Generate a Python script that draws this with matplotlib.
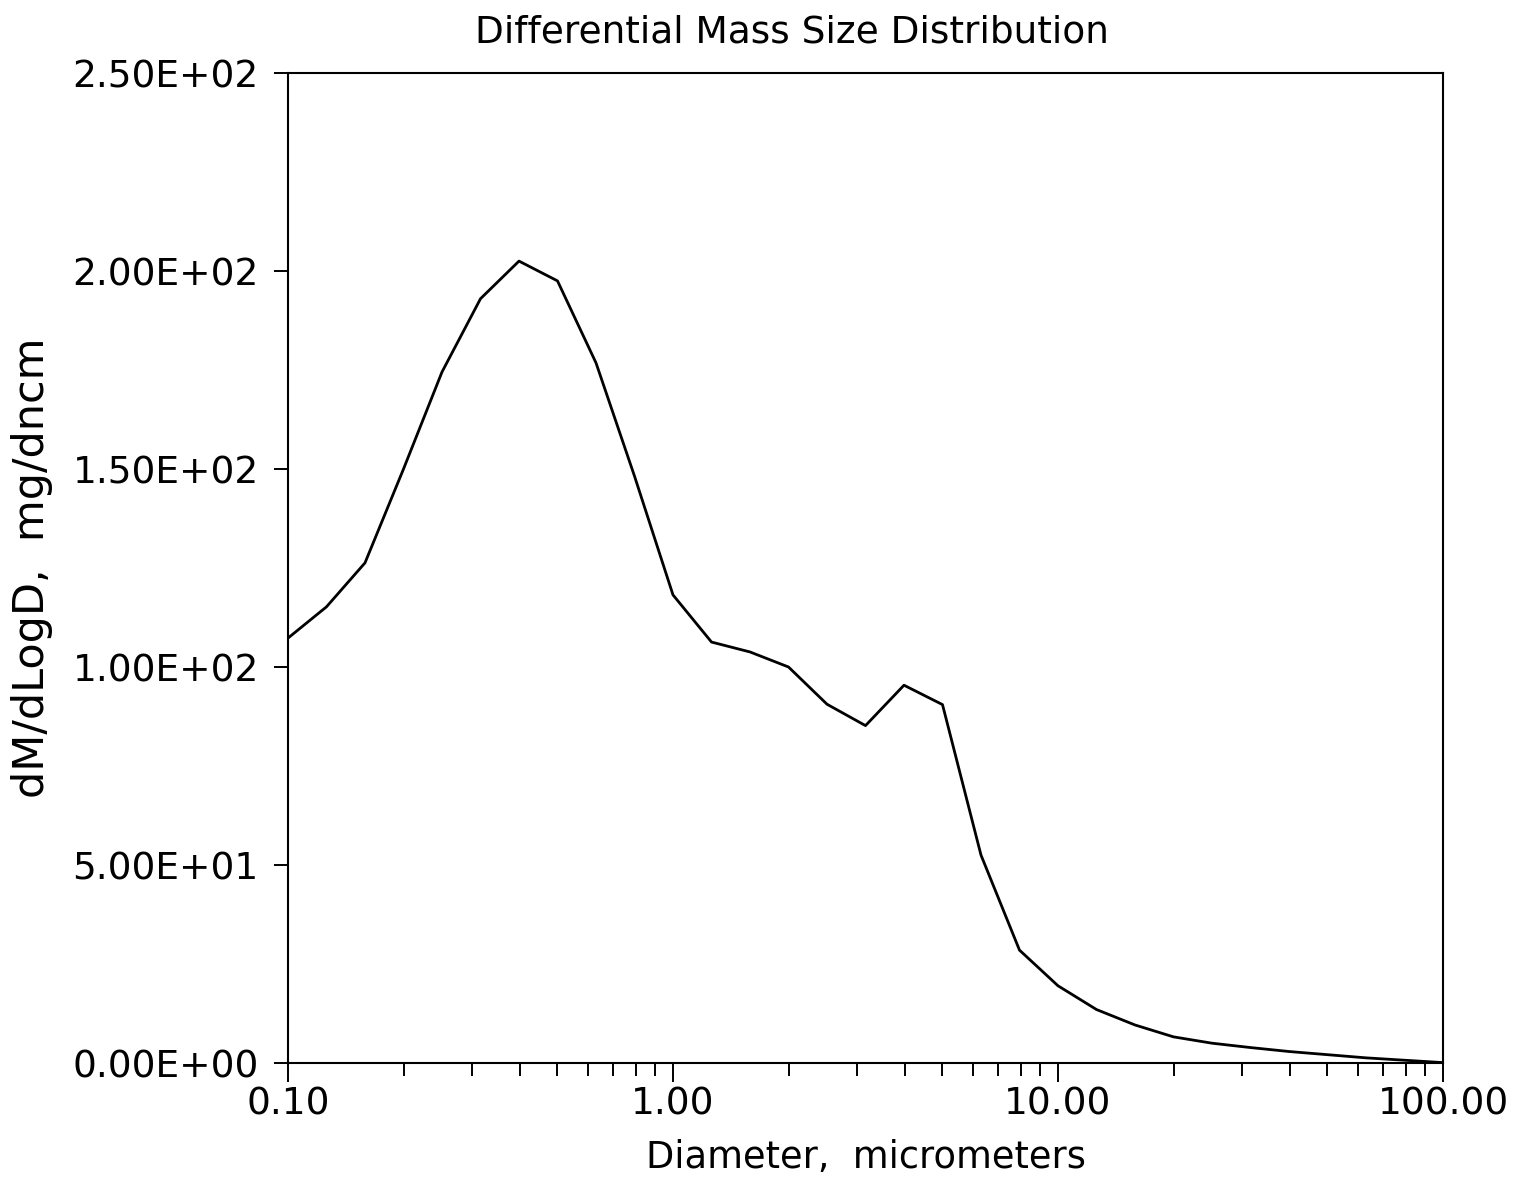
import numpy as np
import matplotlib
matplotlib.use("Agg")
import matplotlib.pyplot as plt
from matplotlib.ticker import FixedLocator, LogLocator, NullFormatter

# diameters on a 1/10-decade grid, 0.1 .. 100 micrometers
diam = 10 ** (np.arange(31) / 10. - 1.)
dm_dlogd = [107.3, 115.2, 126.3, 150.0, 174.5, 193.0, 202.5, 197.5, 176.8, 148.2,
            118.2, 106.3, 103.8, 100.0, 90.6, 85.2, 95.4, 90.5, 52.5, 28.5,
            19.5, 13.5, 9.6, 6.6, 5.0, 3.9, 2.9, 2.1, 1.3, 0.7, 0.1]

yticks = [0, 50, 100, 150, 200, 250]
ytick_labels = ["0.00E+00", "5.00E+01", "1.00E+02", "1.50E+02", "2.00E+02", "2.50E+02"]
xticks = [0.1, 1., 10., 100.]
xtick_labels = ["0.10", "1.00", "10.00", "100.00"]

fig = plt.figure(figsize=(15.2, 11.88), dpi=100)
ax = fig.add_axes([288/1520, 1-1063/1188, (1443-288)/1520, (1063-73)/1188])

ax.plot(diam, dm_dlogd, c='black', lw=2.0)

ax.set_xscale('log')
ax.set_xlim(0.1, 100)
ax.set_ylim(0, 250)

ax.xaxis.set_major_locator(FixedLocator(xticks))
ax.set_xticklabels(xtick_labels, fontsize=27)
ax.xaxis.set_minor_locator(LogLocator(base=10, subs=np.arange(2, 10)))
ax.xaxis.set_minor_formatter(NullFormatter())
ax.set_yticks(yticks)
ax.set_yticklabels(ytick_labels, fontsize=27)

ax.tick_params(axis='x', which='major', direction='out', length=14, width=1.4, pad=3)
ax.tick_params(axis='x', which='minor', direction='out', length=9, width=1.4)
ax.tick_params(axis='y', which='major', direction='out', length=10, width=1.4, pad=11)
for s in ax.spines.values():
    s.set_linewidth(1.5)

ax.set_xlabel("Diameter,  micrometers", fontsize=26.5, labelpad=12)
ax.set_ylabel("dM/dLogD,  mg/dncm", fontsize=31, labelpad=14)
ax.set_title("Differential Mass Size Distribution", fontsize=27, x=0.436, pad=22)

plt.savefig("out.png", dpi=100)
